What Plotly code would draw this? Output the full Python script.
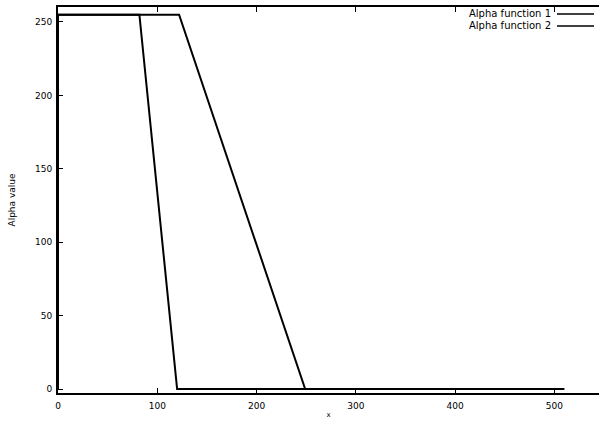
import plotly.graph_objects as go

# Data
f1_x = [0, 0, 82, 120, 510]
f1_y = [0, 255, 255, 0, 0]
f2_x = [0, 122, 249, 510]
f2_y = [255, 255, 0, 0]
series_names = ["Alpha function 1", "Alpha function 2"]
x_ticks = [0, 100, 200, 300, 400, 500]
y_ticks = [0, 50, 100, 150, 200, 250]

W, H = 599, 425
ML, MR, MT, MB = 58, 0, 7, 32

def px_x(p):
    return (p - ML) / (W - ML - MR)

def px_y(p):
    return 1 - (p - MT) / (H - MT - MB)

fig = go.Figure()
for xs, ys, name in [(f1_x, f1_y, series_names[0]), (f2_x, f2_y, series_names[1])]:
    fig.add_trace(go.Scatter(x=xs, y=ys, mode="lines", name=name,
                             line=dict(color="black", width=2), showlegend=False,
                             cliponaxis=False))

font = dict(family="DejaVu Sans, sans-serif", size=9, color="black")
key_font = dict(family="DejaVu Sans, sans-serif", size=10, color="black")

# gnuplot-style key: text then line sample
for i, name in enumerate(series_names):
    yp = 14 + i * 12
    fig.add_annotation(text=name, xref="paper", yref="paper",
                       x=px_x(553), y=px_y(yp), xanchor="right", yanchor="middle",
                       showarrow=False, font=key_font)
    fig.add_shape(type="line", xref="paper", yref="paper",
                  x0=px_x(557), x1=px_x(594), y0=px_y(yp), y1=px_y(yp),
                  line=dict(color="black", width=1.5))

fig.update_layout(
    width=W, height=H,
    margin=dict(l=ML, r=MR, t=MT, b=MB, autoexpand=False),
    paper_bgcolor="white", plot_bgcolor="white",
    font=font,
    showlegend=False,
)
fig.update_xaxes(range=[0, 545], tickvals=x_ticks, ticks="inside", ticklen=5,
                 tickcolor="black", showline=True, linecolor="black", linewidth=2,
                 mirror="ticks", showgrid=False, zeroline=False, automargin=False,
                 tickfont=font, ticklabelstandoff=3,
                 title=dict(text="x", font=dict(family="DejaVu Sans, sans-serif", size=7, color="black"), standoff=2))
fig.update_yaxes(range=[-2.7, 260.2], tickvals=y_ticks, ticks="inside", ticklen=5,
                 tickcolor="black", showline=True, linecolor="black", linewidth=2,
                 showgrid=False, zeroline=False, automargin=False,
                 tickfont=font, ticklabelstandoff=2,
                 title=dict(text="Alpha value", font=dict(family="DejaVu Sans, sans-serif", size=9, color="black"), standoff=18))

fig.write_html(
    "out.html",
    config={"displayModeBar": False},
    post_script="document.body.style.margin='0';document.body.style.overflow='hidden';"
                "document.documentElement.style.overflow='hidden';",
)
